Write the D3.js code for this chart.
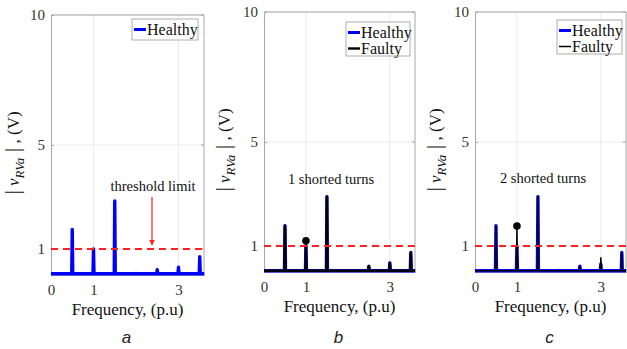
<!DOCTYPE html>
<html><head><meta charset="utf-8">
<script src="https://cdn.jsdelivr.net/npm/d3@7"></script>
<style>body{margin:0;background:#fff}svg{display:block}
svg text{font-family:"Liberation Serif","Times New Roman",serif}
svg text.letter{font-family:"Liberation Sans",Arial,sans-serif}</style>
</head><body>
<script>
// ---- data ----
const harmonicFreqs = [0.5, 1, 1.5, 2, 2.5, 3, 3.5];
const healthyA = [1.75, 1.0, 2.85, 0.06, 0.2, 0.3, 0.7];
const healthyB = [1.78, 1.0, 2.9, 0.06, 0.22, 0.35, 0.75];
const faultyB  = [1.78, 1.2, 2.9, 0.06, 0.22, 0.35, 0.75];
const healthyC = [1.78, 1.0, 2.9, 0.06, 0.22, 0.3, 0.75];
const faultyC  = [1.78, 1.77, 2.9, 0.06, 0.22, 0.55, 0.75];
const baselineLevel = 0.05;
const thresholdValue = 1;
const faultMarkB = {f: 1, v: 1.2};
const faultMarkC = {f: 1, v: 1.77};
const xTicks = [0, 1, 3];
const yTicks = [1, 5, 10];
const xDomain = [0, 3.6];
const yDomain = [0, 10];

const W = 627, H = 349;
const svg = d3.select("body").append("svg").attr("width", W).attr("height", H);
const serif = "Liberation Serif";

function spectrum(vals) {
  const pts = [[xDomain[0], baselineLevel]];
  harmonicFreqs.forEach((f, i) => {
    pts.push([f - 0.012, baselineLevel], [f, vals[i]], [f + 0.012, baselineLevel]);
  });
  pts.push([xDomain[1], baselineLevel]);
  return pts;
}

const panels = [
  {left: 51, right: 204, top: 15, bottom: 275, ylab: 19, letter: "a",
   healthy: healthyA, faulty: null, mark: null,
   legend: {x: 132, y: 19, w: 66, h: 21}, note: null},
  {left: 264, right: 415, top: 12, bottom: 272, ylab: 230, letter: "b",
   healthy: healthyB, faulty: faultyB, mark: faultMarkB, fw: 2.4,
   legend: {x: 346, y: 22, w: 64, h: 34}, note: {text: "1 shorted turns", x: 331, y: 184}},
  {left: 475, right: 626, top: 12, bottom: 272, ylab: 441, letter: "c",
   healthy: healthyC, faulty: faultyC, mark: faultMarkC, fw: 1.5,
   legend: {x: 557, y: 20, w: 65, h: 34}, note: {text: "2 shorted turns", x: 543, y: 183}}
];

panels.forEach((p, pi) => {
  const x = d3.scaleLinear().domain(xDomain).range([p.left, p.right]);
  const y = d3.scaleLinear().domain(yDomain).range([p.bottom, p.top]);
  const g = svg.append("g");
  const clipId = "clip" + pi;
  svg.append("clipPath").attr("id", clipId).append("rect")
    .attr("x", p.left).attr("y", p.top - 2).attr("width", p.right - p.left).attr("height", p.bottom - p.top + 4);

  g.selectAll(".gx").data(xTicks.filter(t => t > 0)).join("line")
    .attr("x1", d => x(d)).attr("x2", d => x(d)).attr("y1", p.top).attr("y2", p.bottom)
    .attr("stroke", "#ebebeb").attr("stroke-width", 1);
  g.selectAll(".gy").data(yTicks).join("line")
    .attr("x1", p.left).attr("x2", p.right).attr("y1", d => y(d)).attr("y2", d => y(d))
    .attr("stroke", "#ebebeb").attr("stroke-width", 1);

  const xa = g.append("g").attr("transform", `translate(0,${p.bottom})`)
    .call(d3.axisBottom(x).tickValues(xTicks).tickSize(-3).tickPadding(9).tickFormat(d3.format("d")));
  const ya = g.append("g").attr("transform", `translate(${p.left},0)`)
    .call(d3.axisLeft(y).tickValues(yTicks).tickSize(-3).tickPadding(6).tickFormat(d3.format("d")));
  [xa, ya].forEach(a => {
    a.attr("font-family", null);
    a.select(".domain").attr("stroke", "#a8a8a8");
    a.selectAll(".tick line").attr("stroke", "#a8a8a8");
    a.selectAll(".tick text").attr("fill", "#333").style("font-family", serif).style("font-size", "15px");
  });
  g.append("line").attr("x1", p.left).attr("x2", p.right).attr("y1", p.top).attr("y2", p.top).attr("stroke", "#a8a8a8");
  g.append("line").attr("x1", p.right).attr("x2", p.right).attr("y1", p.top).attr("y2", p.bottom).attr("stroke", "#a8a8a8");
  g.selectAll(".rt").data(yTicks).join("line")
    .attr("x1", p.right - 3).attr("x2", p.right).attr("y1", d => y(d)).attr("y2", d => y(d)).attr("stroke", "#a8a8a8");

  const line = d3.line().x(d => x(d[0])).y(d => y(d[1]));
  const plot = g.append("g").attr("clip-path", `url(#${clipId})`);
  plot.append("path").attr("d", line(spectrum(p.healthy)))
    .attr("fill", "none").attr("stroke", "#0000ff").attr("stroke-width", 3.4).attr("stroke-linejoin", "round");
  if (p.faulty) {
    plot.append("path").attr("d", line(spectrum(p.faulty)))
      .attr("fill", "none").attr("stroke", "#000").attr("stroke-width", p.fw).attr("stroke-linejoin", "round");
  }
  plot.append("line").attr("x1", x(xDomain[0])).attr("x2", x(xDomain[1]))
    .attr("y1", y(thresholdValue)).attr("y2", y(thresholdValue))
    .attr("stroke", "#ff2020").attr("stroke-width", 2).attr("stroke-dasharray", "7,5");
  if (p.mark) {
    g.append("circle").attr("cx", x(p.mark.f)).attr("cy", y(p.mark.v)).attr("r", 3.8).attr("fill", "#000");
  }

  const L = p.legend;
  g.append("rect").attr("x", L.x).attr("y", L.y).attr("width", L.w).attr("height", L.h)
    .attr("fill", "#fff").attr("stroke", "#999").attr("stroke-width", 0.8);
  const items = p.faulty ? [["Healthy", "#0000ff", 3], ["Faulty", "#000", p.fw]] : [["Healthy", "#0000ff", 3]];
  items.forEach((it, i) => {
    const cy = L.y + 10.5 + i * 16;
    g.append("line").attr("x1", L.x + 2).attr("x2", L.x + 14).attr("y1", cy).attr("y2", cy)
      .attr("stroke", it[1]).attr("stroke-width", it[2]);
    g.append("text").attr("x", L.x + 15).attr("y", cy + 5).text(it[0])
      .style("font-family", serif).style("font-size", "16px").attr("fill", "#111");
  });

  g.append("text").attr("x", (p.left + p.right) / 2).attr("y", p.bottom + 40).attr("text-anchor", "middle")
    .text("Frequency, (p.u)").style("font-family", serif).style("font-size", "17px").attr("fill", "#111");
  g.append("text").attr("class", "letter").attr("x", (p.left + p.right) / 2 - 1).attr("y", 343).attr("text-anchor", "middle")
    .text(p.letter).style("font-style", "italic")
    .style("font-size", "17px").attr("fill", "#222");
  const yl = g.append("text").attr("transform", `translate(${p.ylab},${(p.top + p.bottom) / 2 + 8}) rotate(-90)`)
    .attr("text-anchor", "middle").style("font-family", serif).style("font-size", "17px").attr("fill", "#111");
  yl.append("tspan").text("|").style("font-size", "22px");
  yl.append("tspan").text(" v").style("font-style", "italic");
  yl.append("tspan").text("RVa").style("font-style", "italic").style("font-size", "13px").attr("dy", 5);
  yl.append("tspan").text(" |").attr("dy", -5).style("font-size", "22px");
  yl.append("tspan").text(" , (V)");

  if (p.note) {
    g.append("text").attr("x", p.note.x).attr("y", p.note.y).attr("text-anchor", "middle")
      .text(p.note.text).style("font-family", serif).style("font-size", "14.5px").attr("fill", "#111");
  }
});

const ya0 = d3.scaleLinear().domain(yDomain).range([275, 15]);
svg.append("text").attr("x", 153).attr("y", 191).attr("text-anchor", "middle").text("threshold limit")
  .style("font-family", serif).style("font-size", "14.5px").attr("fill", "#111");
svg.append("defs").append("marker").attr("id", "arr").attr("viewBox", "0 0 10 10").attr("refX", 9).attr("refY", 5)
  .attr("markerWidth", 5).attr("markerHeight", 5).attr("orient", "auto")
  .append("path").attr("d", "M0,0L10,5L0,10z").attr("fill", "#ff2020");
svg.append("line").attr("x1", 152).attr("x2", 152).attr("y1", 197).attr("y2", ya0(thresholdValue) - 4)
  .attr("stroke", "#ff2020").attr("stroke-width", 1.2).attr("marker-end", "url(#arr)");
</script>
</body></html>
